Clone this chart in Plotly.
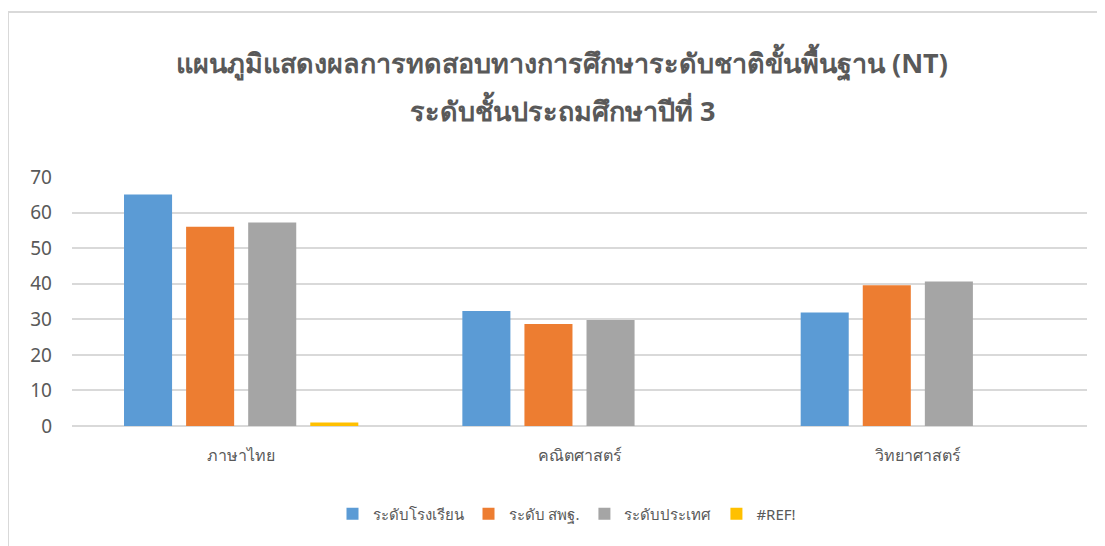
import plotly.graph_objects as go

categories = ["ภาษาไทย", "คณิตศาสตร์", "วิทยาศาสตร์"]
series_names = ["ระดับโรงเรียน", "ระดับ สพฐ.", "ระดับประเทศ", "#REF!"]
school = [65.1, 32.3, 31.9]
obec = [56.0, 28.7, 39.6]
national = [57.2, 29.8, 40.6]
ref_err = [1.0, 0, 0]
colors = ["#5B9BD5", "#ED7D31", "#A5A5A5", "#FFC000"]
y_ticks = [0, 10, 20, 30, 40, 50, 60, 70]
title_lines = ["แผนภูมิแสดงผลการทดสอบทางการศึกษาระดับชาติขั้นพื้นฐาน (NT)",
               "ระดับชั้นประถมศึกษาปีที่ 3"]

OFF = 8  # browser body margin
W, H = 1105 - OFF, 546 - OFF
L, R, T, B = 72 - OFF, 18, 177 - OFF, 120
pw, ph = W - L - R, H - T - B
ZERO = 426 - OFF  # pixel y of zero line in figure coords

def py(y_px):
    return (ZERO - (y_px - OFF)) / ph

def px(x_px):
    return ((x_px - OFF) - L) / pw

fig = go.Figure()
for name, vals, c in zip(series_names, [school, obec, national, ref_err], colors):
    fig.add_trace(go.Bar(x=categories, y=vals, name=name, marker_color=c,
                         marker_line_width=0))

annotations = [
    dict(text="<b>%s</b>" % title_lines[0], xref="paper", yref="paper",
         x=px(562), y=py(62), xanchor="center", yanchor="middle", showarrow=False,
         font=dict(size=27, color="#595959")),
    dict(text="<b>%s</b>" % title_lines[1], xref="paper", yref="paper",
         x=px(562), y=py(110), xanchor="center", yanchor="middle", showarrow=False,
         font=dict(size=27, color="#595959")),
]

fig.update_layout(
    width=W, height=H,
    margin=dict(l=L, r=R, t=T, b=B),
    plot_bgcolor="white", paper_bgcolor="white",
    barmode="group", bargap=0.266, bargroupgap=0.226,
    font=dict(family="Noto Sans, Tahoma, sans-serif", color="#595959"),
    annotations=annotations,
    xaxis=dict(showgrid=False, showline=False, ticks="",
               tickfont=dict(size=16, color="#595959"), ticklabelstandoff=18),
    yaxis=dict(range=[0, 70], tickvals=y_ticks, showgrid=True,
               gridcolor="#D9D9D9", gridwidth=2, zeroline=True,
               zerolinecolor="#D9D9D9", zerolinewidth=2,
               tickfont=dict(size=19, color="#595959"), ticklabelstandoff=19),
    legend=dict(orientation="h", x=px(567), xanchor="center",
                y=py(514), yanchor="middle",
                font=dict(size=15, color="#595959"), itemwidth=30),
    shapes=[dict(type="line", xref="paper", yref="paper",
                 x0=px(8), x1=px(1115),
                 y0=py(12), y1=py(12),
                 line=dict(color="#D9D9D9", width=2)),
            dict(type="line", xref="paper", yref="paper",
                 x0=px(8), x1=px(8),
                 y0=py(12), y1=py(560),
                 line=dict(color="#D9D9D9", width=2))],
)

fig.write_html("out.html")
